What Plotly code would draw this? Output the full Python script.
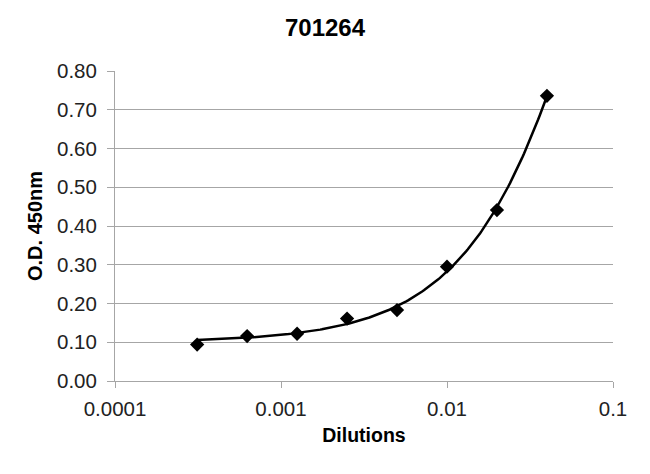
import numpy as np
import plotly.graph_objects as go

title = "701264"
dilutions = [1/3200, 1/1600, 1/800, 1/400, 1/200, 1/100, 1/50, 1/25]
od450 = [0.094, 0.116, 0.122, 0.161, 0.183, 0.295, 0.441, 0.736]
x_tickvals = [0.0001, 0.001, 0.01, 0.1]
x_ticktext = ["0.0001", "0.001", "0.01", "0.1"]
y_tickvals = [0.0, 0.1, 0.2, 0.3, 0.4, 0.5, 0.6, 0.7, 0.8]

# Polynomial (order 2) trendline fitted to the data, as in a spreadsheet chart
coef = np.polyfit(dilutions, od450, 2)
xfit = np.logspace(np.log10(min(dilutions)), np.log10(max(dilutions)), 200)
yfit = np.polyval(coef, xfit)

FONT = "Liberation Sans, Arial, sans-serif"
GRID = "#a6a6a6"
W, H = 642, 466  # page body has an 8px margin

fig = go.Figure()
fig.add_trace(go.Scatter(x=xfit, y=yfit, mode="lines",
                         line=dict(color="black", width=2.5),
                         hoverinfo="skip", showlegend=False))
fig.add_trace(go.Scatter(x=dilutions, y=od450, mode="markers",
                         marker=dict(symbol="diamond", size=11, color="black"),
                         showlegend=False))

fig.update_layout(
    width=W, height=H, autosize=False,
    margin=dict(l=107, r=37, t=63, b=93),
    paper_bgcolor="white", plot_bgcolor="white",
    font=dict(family=FONT, color="black"),
    title=dict(text="<b>" + title + "</b>", x=317/W, xref="container",
               y=1 - 20/H, yref="container", yanchor="middle", xanchor="center",
               font=dict(size=24, family=FONT, color="black")),
)
fig.update_xaxes(
    type="log", range=[-4, -1],
    tickvals=x_tickvals, ticktext=x_ticktext,
    tickfont=dict(size=20.5, color="#222"),
    ticks="outside", ticklen=6, tickcolor=GRID, tickwidth=1,
    ticklabelstandoff=3,
    showline=True, linecolor=GRID, linewidth=1,
    showgrid=False, zeroline=False,
    title=dict(text="<b>Dilutions</b>", font=dict(size=19.5, color="black"), standoff=9),
)
fig.update_yaxes(
    range=[0, 0.8], tickvals=y_tickvals, tickformat=".2f",
    tickfont=dict(size=20.5, color="#222"),
    ticks="outside", ticklen=7, tickcolor=GRID, tickwidth=1,
    ticklabelstandoff=6,
    showline=True, linecolor=GRID, linewidth=1,
    showgrid=True, gridcolor=GRID, gridwidth=1, zeroline=False,
    title=dict(text="<b>O.D. 450nm</b>", font=dict(size=20, color="black"), standoff=8),
)

fig.write_html("out.html")
